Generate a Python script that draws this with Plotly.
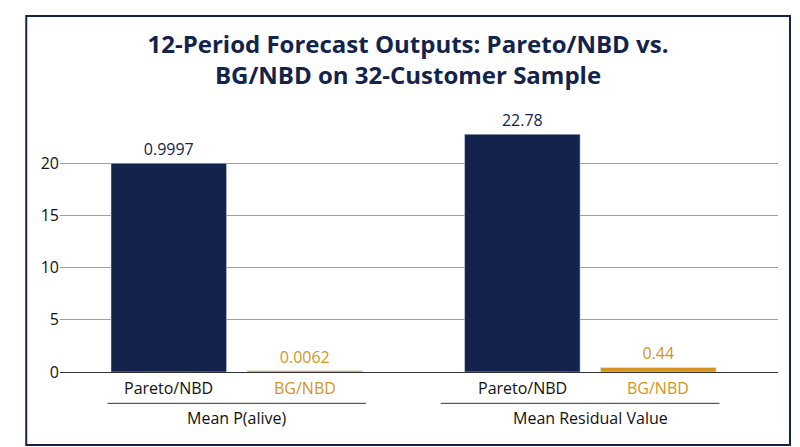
import plotly.graph_objects as go

groups = ["Mean P(alive)", "Mean Residual Value"]
models = ["Pareto/NBD", "BG/NBD", "Pareto/NBD", "BG/NBD"]
display_values = [0.9997, 0.0062, 22.78, 0.44]
label_texts = ["0.9997", "0.0062", "22.78", "0.44"]
plot_scale = [20, 20, 1, 1]  # P(alive) shown scaled x20 on common axis
bar_heights = [v * s for v, s in zip(display_values, plot_scale)]
x_pos = [0, 1, 2.6, 3.6]
navy = "#13234B"
orange = "#D4941E"
colors = [navy, orange, navy, orange]
font = "Open Sans"

fig = go.Figure(go.Bar(
    x=x_pos, y=bar_heights, width=0.85, marker_color=colors,
    text=label_texts, textposition="outside",
    textfont=dict(color=colors, size=16, family=font), cliponaxis=False))

ann = []
for xp, m, c in zip(x_pos, models, colors):
    ann.append(dict(x=xp, y=-0.062, xref="x", yref="paper", text=m, showarrow=False,
                    yanchor="middle",
                    font=dict(size=16, color=c if c == orange else "#111", family=font)))
for g, cx in zip(groups, [0.5, 3.1]):
    ann.append(dict(x=cx, y=-0.178, xref="x", yref="paper", text=g, showarrow=False,
                    yanchor="middle",
                    font=dict(size=16, color="#111", family=font)))
shapes = [dict(type="line", xref="x", yref="paper", x0=a, x1=b, y0=-0.12, y1=-0.12,
               line=dict(color="#333", width=1)) for a, b in [(-0.45, 1.45), (2.0, 4.05)]]
shapes.append(dict(type="rect", xref="paper", yref="paper", x0=-0.047, x1=1.0167, y0=-0.28, y1=1.364,
                   line=dict(color=navy, width=2)))

fig.update_layout(
    width=800, height=447, margin=dict(l=52, r=30, t=103, b=83, autoexpand=False),
    plot_bgcolor="white", paper_bgcolor="white",
    title=dict(text="<b>12-Period Forecast Outputs: Pareto/NBD vs.<br>BG/NBD on 32-Customer Sample</b>",
               x=0.5, xanchor="center", y=0.9, yanchor="middle",
               font=dict(size=24, color=navy, family=font)),
    xaxis=dict(range=[-0.8, 4.48], showticklabels=False, showgrid=False,
               showline=True, linecolor="#333", linewidth=1, zeroline=False),
    yaxis=dict(range=[0, 25], tickvals=[0, 5, 10, 15, 20], gridcolor="#9aa0ab",
               tickfont=dict(size=16, color="#111", family=font), zeroline=False),
    annotations=ann, shapes=shapes, showlegend=False)
fig.write_html("out.html")
